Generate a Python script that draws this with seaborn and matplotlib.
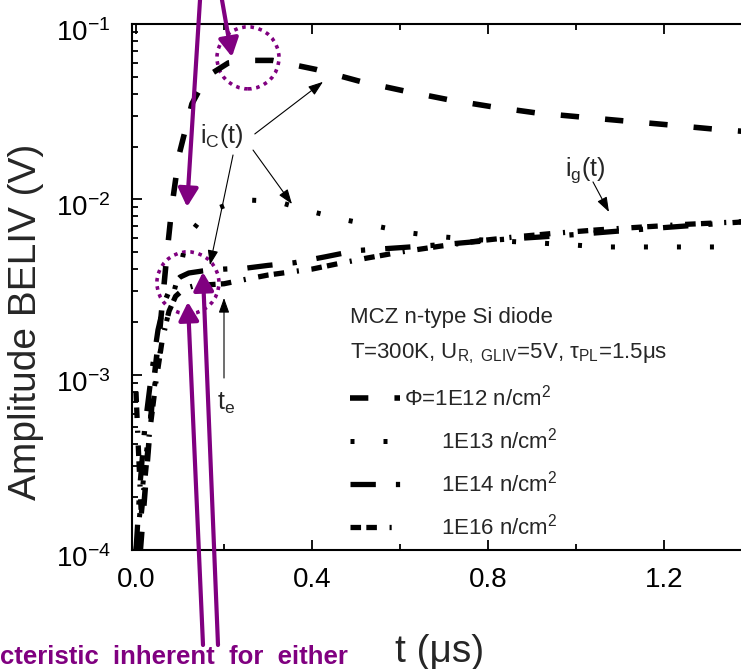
import matplotlib
matplotlib.use("Agg")
import matplotlib.pyplot as plt
import seaborn as sns
from matplotlib.patches import Circle
from matplotlib.transforms import ScaledTranslation
from matplotlib.ticker import LogLocator, MultipleLocator, NullFormatter, FormatStrFormatter

# BELIV transients, time in microseconds, amplitude in volts
t_1e12 = [0.010, 0.025, 0.040, 0.055, 0.070, 0.082, 0.098, 0.127, 0.160, 0.210, 0.260,
          0.310, 0.410, 0.510, 0.610, 0.710, 0.810, 0.910, 1.010, 1.110, 1.210, 1.310, 1.400]
amp_1e12 = [1.0e-4, 3.0e-4, 9.0e-4, 1.9e-3, 4.8e-3, 9.3e-3, 1.8e-2, 3.5e-2, 5.0e-2, 6.0e-2, 6.2e-2,
            6.2e-2, 5.5e-2, 4.7e-2, 4.15e-2, 3.7e-2, 3.37e-2, 3.11e-2, 2.95e-2, 2.8e-2, 2.66e-2, 2.52e-2, 2.42e-2]

t_1e13 = [0.000, 0.020, 0.040, 0.060, 0.080, 0.100, 0.116, 0.150, 0.186, 0.220, 0.257, 0.300, 0.334,
          0.400, 0.480, 0.550, 0.630, 0.700, 0.770, 0.880, 0.990, 1.060, 1.140, 1.220, 1.300, 1.400]
amp_1e13 = [1.0e-4, 3.0e-4, 8.0e-4, 1.6e-3, 2.6e-3, 4.0e-3, 6.1e-3, 7.8e-3, 8.9e-3, 9.6e-3, 9.9e-3, 9.8e-3, 9.5e-3,
            8.5e-3, 7.6e-3, 7.0e-3, 6.4e-3, 6.1e-3, 5.9e-3, 5.7e-3, 5.5e-3, 5.35e-3, 5.35e-3, 5.35e-3, 5.35e-3, 5.35e-3]

t_1e14 = [0.000, 0.010, 0.020, 0.035, 0.050, 0.065, 0.080, 0.100, 0.120, 0.150, 0.170, 0.200, 0.250, 0.300,
          0.360, 0.430, 0.500, 0.600, 0.690, 0.760, 0.830, 0.920, 1.000, 1.100, 1.200, 1.300, 1.400]
amp_1e14 = [1.0e-4, 2.5e-4, 5.0e-4, 1.0e-3, 1.8e-3, 2.6e-3, 3.2e-3, 3.6e-3, 3.8e-3, 3.9e-3, 3.95e-3, 4.0e-3, 4.05e-3, 4.2e-3,
            4.35e-3, 4.7e-3, 5.1e-3, 5.3e-3, 5.5e-3, 5.7e-3, 5.9e-3, 6.1e-3, 6.3e-3, 6.6e-3, 6.9e-3, 7.2e-3, 7.5e-3]

t_1e16 = [0.000, 0.005, 0.012, 0.020, 0.030, 0.045, 0.060, 0.075, 0.090, 0.110, 0.130, 0.160, 0.200, 0.250,
          0.300, 0.350, 0.400, 0.460, 0.520, 0.600, 0.690, 0.780, 0.860, 0.950, 1.050, 1.150, 1.250, 1.400]
amp_1e16 = [8.0e-4, 4.0e-4, 1.6e-4, 2.5e-4, 4.5e-4, 9.0e-4, 1.6e-3, 2.3e-3, 2.8e-3, 3.1e-3, 3.2e-3, 3.25e-3, 3.3e-3, 3.5e-3,
            3.7e-3, 3.85e-3, 4.0e-3, 4.3e-3, 4.6e-3, 5.0e-3, 5.4e-3, 5.8e-3, 6.1e-3, 6.4e-3, 6.7e-3, 6.95e-3, 7.2e-3, 7.5e-3]

fluence_labels = ["\u03A6=1E12 n/cm$^{2}$", "      1E13 n/cm$^{2}$",
                  "      1E14 n/cm$^{2}$", "      1E16 n/cm$^{2}$"]

x_ticks = [0.0, 0.4, 0.8, 1.2]

PURPLE = "#800080"

sns.set_style("ticks")
plt.rcParams["font.family"] = ["Liberation Sans", "DejaVu Sans"]
plt.rcParams["mathtext.fontset"] = "custom"
plt.rcParams["mathtext.rm"] = "Liberation Sans"
plt.rcParams["mathtext.default"] = "regular"

fig = plt.figure(figsize=(7.41, 6.69), dpi=100)
ax = fig.add_axes([132 / 741, 119 / 669, 609 / 741, 526 / 669])

# line width (pt) and dash pattern (in line widths) for each fluence
series = [
    (t_1e12, amp_1e12, 4.0, (3.3, 4.7)),
    (t_1e13, amp_1e13, 3.6, (0.8, 5.8)),
    (t_1e14, amp_1e14, 3.8, (4.8, 3.8, 0.8, 3.8)),
    (t_1e16, amp_1e16, 3.8, (2.0, 1.0, 2.0, 2.4, 0.4, 2.4)),
]
for (t, amp, lw, dash), lab in zip(series, fluence_labels):
    sns.lineplot(x=t, y=amp, ax=ax, color="black", lw=lw,
                 linestyle=(0, dash), label=lab, sort=False)

ax.set_yscale("log")
ax.set_ylim(1e-4, 1e-1)
ax.set_xlim(-4 / 440, 605 / 440)

ax.yaxis.set_major_locator(LogLocator(base=10))
ax.yaxis.set_minor_locator(LogLocator(base=10, subs=range(2, 10)))
ax.yaxis.set_minor_formatter(NullFormatter())
ax.set_xticks(x_ticks)
ax.xaxis.set_minor_locator(MultipleLocator(0.2))
ax.xaxis.set_major_formatter(FormatStrFormatter("%.1f"))

ax.tick_params(which="both", direction="in", top=True, right=False, width=1.3,
               labelsize=20, colors="black")
ax.tick_params(axis="x", which="both", pad=12)
ax.tick_params(axis="y", which="both", pad=15.5)
ax.tick_params(which="major", length=7)
ax.tick_params(which="minor", length=4.5)
for side in ("left", "top", "bottom"):
    ax.spines[side].set_linewidth(1.5)
    ax.spines[side].set_color("black")
ax.spines["right"].set_visible(False)

# decade labels sit slightly below their ticks
shift_down = ScaledTranslation(0, -6 / 100, fig.dpi_scale_trans)
for tick in ax.yaxis.get_major_ticks():
    tick.label1.set_transform(tick.label1.get_transform() + shift_down)

ax.set_xlabel("t (\u03bcs)", fontsize=28)
ax.set_ylabel("Amplitude BELIV (V)", fontsize=28)
ax.xaxis.set_label_coords((440 - 132) / 609, -(634 - 550) / 526)
ax.yaxis.set_label_coords(-(132 - 44) / 609, (550 - 322) / 526)

# sample description and legend
ax.text(350 / 741, 1 - 323 / 669, "MCZ n-type Si diode", transform=fig.transFigure,
        fontsize=16, va="baseline", ha="left")
ax.text(350 / 741, 1 - 358 / 669,
        "T=300K, U$_\\mathregular{R,\\ GLIV}$=5V, \u03c4$_\\mathregular{PL}$=1.5\u03bcs",
        transform=fig.transFigure, fontsize=16, va="baseline", ha="left")
handles = ax.get_lines()[:4]
ax.legend(handles, fluence_labels, loc="upper left", frameon=False, fontsize=16,
          bbox_to_anchor=(350 / 741, 1 - 385 / 669), bbox_transform=fig.transFigure,
          handlelength=2.25, handletextpad=0.2, labelspacing=0.77, borderaxespad=0, borderpad=0)

# current components
arrow_thin = dict(arrowstyle="-|>,head_length=0.45,head_width=0.16", color="black",
                  lw=0.8, shrinkA=0, shrinkB=0, mutation_scale=20)
ax.text(0.1455, 0.0210, "i$_\\mathregular{C}$(t)", fontsize=18, ha="left", va="baseline")
ax.annotate("", xy=(0.425, 0.0468), xytext=(0.270, 0.0236), arrowprops=arrow_thin)
ax.annotate("", xy=(0.3545, 0.0094), xytext=(0.266, 0.0191), arrowprops=arrow_thin)
ax.annotate("", xy=(0.168, 0.00422), xytext=(0.2205, 0.0179), arrowprops=arrow_thin)
ax.text(0.975, 0.0136, "i$_\\mathregular{g}$(t)", fontsize=18, ha="left", va="baseline")
ax.annotate("", xy=(1.075, 0.00847), xytext=(1.0386, 0.01257), arrowprops=arrow_thin)
ax.text(0.184, 6.29e-4, "t$_\\mathregular{e}$", fontsize=18, ha="left", va="baseline")
ax.annotate("", xy=(0.2, 0.00274), xytext=(0.2, 9.57e-4), arrowprops=arrow_thin)

# highlighted regions
for cx, cy in [(0.2545, 0.0641), (0.118, 0.00334)]:
    ring = Circle((0, 0), radius=0.31, fill=False, edgecolor=PURPLE, lw=2.6,
                  linestyle=(0, (1.0, 1.3)),
                  transform=fig.dpi_scale_trans + ScaledTranslation(cx, cy, ax.transData))
    ax.add_patch(ring)

arrow_bold = dict(arrowstyle="-|>,head_length=0.55,head_width=0.3", color=PURPLE,
                  lw=3.0, shrinkA=0, shrinkB=0, mutation_scale=20)
for tip, tail in [((0.116, 0.00905), (200 / 741, 1.0)),
                  ((0.218, 0.0649), (222 / 741, 1.0)),
                  ((0.118, 0.0026), (203 / 741, 24 / 669)),
                  ((0.152, 0.00385), (218 / 741, 24 / 669))]:
    ax.annotate("", xy=tip, xycoords="data", xytext=tail, textcoords="figure fraction",
                arrowprops=arrow_bold, annotation_clip=False)

fig.text(0.0, 5 / 669, "cteristic  inherent  for  either", color=PURPLE,
         fontsize=18.5, fontweight="bold", ha="left", va="baseline")

fig.savefig("out.png", dpi=100)
